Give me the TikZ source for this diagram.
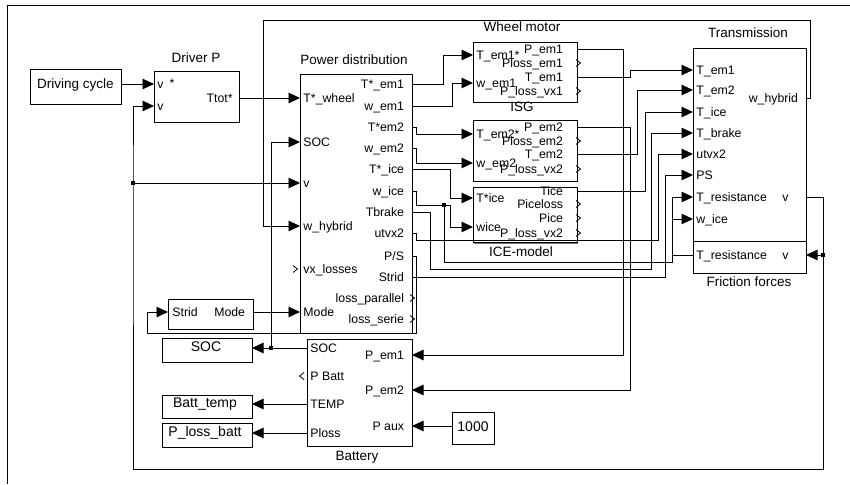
\documentclass[tikz,border=0pt]{standalone}
\usepackage{fontspec}
\setmainfont{Liberation Sans}
\usetikzlibrary{arrows.meta,shadows}
\newcommand\portfnt{\fontsize{12.3}{13}\selectfont}
\newcommand\titlefnt{\fontsize{13.5}{15}\selectfont}
\newcommand\dispfnt{\fontsize{14}{15}\selectfont}
\newcommand\chvo[2]{\draw[chev] (#1-1,#2-3.5) -- (#1+3.5,#2) -- (#1-1,#2+3.5);}
\begin{document}
\begin{tikzpicture}[x=1pt,y=-1pt,
  line width=0.9pt,
  blk/.style={draw, fill=white, line width=0.9pt, anchor=north west, inner sep=0pt, outer sep=0pt,
     drop shadow={shadow xshift=1.3pt, shadow yshift=-1.3pt, fill=black!55, opacity=1}},
  sig/.style={draw, line width=0.9pt, -{Triangle[length=11.5pt,width=10.5pt]}},
  wire/.style={draw, line width=0.9pt},
  jn/.style={fill, inner sep=0pt, minimum size=3.8pt},
  pl/.style={font=\portfnt, anchor=base west, inner sep=0pt, xshift=3pt, yshift=-4.4pt},
  pr/.style={font=\portfnt, anchor=base east, inner sep=0pt, xshift=-7.5pt, yshift=-4.4pt},
  ttl/.style={font=\titlefnt, anchor=base, inner sep=0pt, yshift=-4.8pt},
  dsp/.style={font=\dispfnt, anchor=base, inner sep=0pt, yshift=-5pt},
  chev/.style={draw, line width=0.8pt},
]
\useasboundingbox (0,0) rectangle (850,484);
% frame
\draw[line width=0.9pt] (850,5) -- (7,5) -- (7,484);

% blocks
\node[blk, minimum width=91pt, minimum height=35pt] (dc) at (30,69) {};
\node[blk, minimum width=85pt, minimum height=51pt] (drv) at (154,71) {};
\node[blk, minimum width=112pt, minimum height=259pt] (pd) at (300,74) {};
\node[blk, minimum width=104pt, minimum height=60pt] (wm) at (473,42) {};
\node[blk, minimum width=104pt, minimum height=61pt] (isg) at (473,120) {};
\node[blk, minimum width=104pt, minimum height=55.5pt] (ice) at (473,187) {};
\node[blk, minimum width=113pt, minimum height=193pt] (tr) at (693,48) {};
\node[blk, minimum width=113pt, minimum height=32pt] (ff) at (693,241) {};
\node[blk, minimum width=85pt, minimum height=30pt] (md) at (168,299) {};
\node[blk, minimum width=90pt, minimum height=24pt] (socd) at (162,338) {};
\node[blk, minimum width=90pt, minimum height=23pt] (btd) at (162,395) {};
\node[blk, minimum width=90pt, minimum height=24pt] (plb) at (162,423) {};
\node[blk, minimum width=105pt, minimum height=107pt] (bat) at (307,339) {};
\node[blk, minimum width=42pt, minimum height=32pt] (cst) at (452,412) {};

% ports
\coordinate (dc-out) at (121,84);
\coordinate (drv-vs) at (154,84);
\coordinate (drv-v) at (154,106);
\coordinate (drv-t) at (239,98);
\coordinate (pd-tw) at (300,98);
\coordinate (pd-soc) at (300,142);
\coordinate (pd-v) at (300,183);
\coordinate (pd-wh) at (300,226);
\coordinate (pd-vx) at (300,269);
\coordinate (pd-mode) at (300,312);
\coordinate (pd-o1) at (412,84);
\coordinate (pd-o2) at (412,106);
\coordinate (pd-o3) at (412,127);
\coordinate (pd-o4) at (412,148);
\coordinate (pd-o5) at (412,169);
\coordinate (pd-o6) at (412,191);
\coordinate (pd-o7) at (412,212);
\coordinate (pd-o8) at (412,233);
\coordinate (pd-o9) at (412,256);
\coordinate (pd-o10) at (412,277);
\coordinate (pd-o11) at (412,298);
\coordinate (pd-o12) at (412,319);
\coordinate (wm-i1) at (473,55);
\coordinate (wm-i2) at (473,83);
\coordinate (wm-o1) at (577,49);
\coordinate (wm-o2) at (577,63);
\coordinate (wm-o3) at (577,77);
\coordinate (wm-o4) at (577,91);
\coordinate (isg-i1) at (473,134);
\coordinate (isg-i2) at (473,163);
\coordinate (isg-o1) at (577,127);
\coordinate (isg-o2) at (577,141);
\coordinate (isg-o3) at (577,154);
\coordinate (isg-o4) at (577,169);
\coordinate (ice-i1) at (473,198);
\coordinate (ice-i2) at (473,227);
\coordinate (ice-o1) at (577,191);
\coordinate (ice-o2) at (577,204);
\coordinate (ice-o3) at (577,218);
\coordinate (ice-o4) at (577,233);
\coordinate (tr-i1) at (693,70);
\coordinate (tr-i2) at (693,90);
\coordinate (tr-i3) at (693,112);
\coordinate (tr-i4) at (693,133);
\coordinate (tr-i5) at (693,154);
\coordinate (tr-i6) at (693,175);
\coordinate (tr-i7) at (693,197);
\coordinate (tr-i8) at (693,219);
\coordinate (tr-wh) at (806,98);
\coordinate (tr-v) at (806,197);
\coordinate (ff-tr) at (693,255);
\coordinate (ff-v) at (806,255);
\coordinate (md-in) at (168,312);
\coordinate (md-out) at (253,312);
\coordinate (bat-soc) at (307,348);
\coordinate (bat-pb) at (307,376);
\coordinate (bat-temp) at (307,404);
\coordinate (bat-ploss) at (307,433);
\coordinate (bat-pem1) at (412,355);
\coordinate (bat-pem2) at (412,390);
\coordinate (bat-paux) at (412,426);
\coordinate (socd-in) at (252,348);
\coordinate (btd-in) at (252,404);
\coordinate (plb-in) at (252,433);
\coordinate (cst-out) at (452,426);
\coordinate (jv) at (133,183);
\coordinate (jsoc) at (271,348);
\coordinate (jwice) at (444,205);
\coordinate (jff) at (823,255);

% titles
\node[ttl] at (75.5,84) {Driving cycle};
\node[ttl] at (196,58) {Driver P};
\node[ttl] at (354,60) {Power distribution};
\node[ttl] at (522,27) {Wheel motor};
\node[ttl] at (522,107) {ISG};
\node[ttl] at (521,251.5) {ICE-model};
\node[ttl] at (748,33) {Transmission};
\node[ttl] at (749,282) {Friction forces};
\node[ttl] at (357,455.5) {Battery};
\node[dsp] at (206,346) {SOC};
\node[dsp] at (205,402.5) {Batt\_temp};
\node[dsp] at (205,431.5) {P\_loss\_batt};
\node[dsp] at (473,426) {1000};

% port labels
\node[pl] at (drv-vs) {v};
\node[font=\portfnt, inner sep=0pt] at (172,83) {*};
\node[pl] at (drv-v) {v};
\node[pr, xshift=1.5pt] at (drv-t) {Ttot*};

\node[pl] at (pd-tw) {T*\_wheel};
\node[pl] at (pd-soc) {SOC};
\node[pl] at (pd-v) {v};
\node[pl] at (pd-wh) {w\_hybrid};
\node[pl] at (pd-vx) {vx\_losses};
\node[pl] at (pd-mode) {Mode};
\node[pr] at (pd-o1) {T*\_em1};
\node[pr] at (pd-o2) {w\_em1};
\node[pr] at (pd-o3) {T*em2};
\node[pr] at (pd-o4) {w\_em2};
\node[pr] at (pd-o5) {T*\_ice};
\node[pr] at (pd-o6) {w\_ice};
\node[pr] at (pd-o7) {Tbrake};
\node[pr] at (pd-o8) {utvx2};
\node[pr] at (pd-o9) {P/S};
\node[pr] at (pd-o10) {Strid};
\node[pr] at (pd-o11) {loss\_parallel};
\node[pr] at (pd-o12) {loss\_serie};

\node[pl] at (wm-i1) {T\_em1*};
\node[pl] at (wm-i2) {w\_em1};
\node[pr, xshift=-6pt] at (wm-o1) {P\_em1};
\node[pr, xshift=-6pt] at (wm-o2) {Ploss\_em1};
\node[pr, xshift=-6pt] at (wm-o3) {T\_em1};
\node[pr, xshift=-6pt] at (wm-o4) {P\_loss\_vx1};

\node[pl] at (isg-i1) {T\_em2*};
\node[pl] at (isg-i2) {w\_em2};
\node[pr, xshift=-6pt] at (isg-o1) {P\_em2};
\node[pr, xshift=-6pt] at (isg-o2) {Ploss\_em2};
\node[pr, xshift=-6pt] at (isg-o3) {T\_em2};
\node[pr, xshift=-6pt] at (isg-o4) {P\_loss\_vx2};

\node[pl] at (ice-i1) {T*ice};
\node[pl] at (ice-i2) {wice};
\node[pr, xshift=-6pt] at (ice-o1) {Tice};
\node[pr, xshift=-6pt] at (ice-o2) {Piceloss};
\node[pr, xshift=-6pt] at (ice-o3) {Pice};
\node[pr, xshift=-6pt] at (ice-o4) {P\_loss\_vx2};

\node[pl] at (tr-i1) {T\_em1};
\node[pl] at (tr-i2) {T\_em2};
\node[pl] at (tr-i3) {T\_ice};
\node[pl] at (tr-i4) {T\_brake};
\node[pl] at (tr-i5) {utvx2};
\node[pl] at (tr-i6) {PS};
\node[pl] at (tr-i7) {T\_resistance};
\node[pl] at (tr-i8) {w\_ice};
\node[pr] at (tr-wh) {w\_hybrid};
\node[pr, xshift=-9.5pt] at (tr-v) {v};
\node[pl] at (ff-tr) {T\_resistance};
\node[pr, xshift=-9.5pt] at (ff-v) {v};

\node[pl, xshift=1pt] at (md-in) {Strid};
\node[pr] at (md-out) {Mode};

\node[pl] at (bat-soc) {SOC};
\node[pl] at (bat-pb) {P Batt};
\node[pl] at (bat-temp) {TEMP};
\node[pl] at (bat-ploss) {Ploss};
\node[pr] at (bat-pem1) {P\_em1};
\node[pr] at (bat-pem2) {P\_em2};
\node[pr] at (bat-paux) {P aux};

% unconnected port markers
\chvo{577}{63}
\chvo{577}{91}
\chvo{577}{141}
\chvo{577}{169}
\chvo{577}{204}
\chvo{577}{218}
\chvo{577}{233}
\chvo{411}{298}
\chvo{411}{319}
\draw[chev] (293,265.5) -- (297.5,269) -- (293,272.5);
\draw[chev] (304,372.5) -- (299.5,376) -- (304,379.5);

% connectors
\draw[sig] (dc-out) -- (drv-vs);
\draw[sig] (drv-t) -- (pd-tw);
\draw[wire] (tr-v) -| (jff);
\draw[sig] (jff) -- (ff-v);
\draw[sig] (jff) -- (823,469) -| (jv) |- (drv-v);
\draw[sig] (jv) -- (pd-v);
\draw[sig] (tr-wh) -- ++(4,0) |- (263,20) |- (pd-wh);
\draw[sig] (bat-soc) -- (socd-in);
\draw[sig] (jsoc) |- (pd-soc);
\draw[sig] (bat-temp) -- (btd-in);
\draw[sig] (bat-ploss) -- (plb-in);
\draw[sig] (cst-out) -- (bat-paux);
\draw[sig] (md-out) -- (pd-mode);
\draw[sig] (pd-o9) -- ++(4,0) |- (147,333) |- (md-in);
\draw[sig] (pd-o1) -- ++(31,0) |- (wm-i1);
\draw[sig] (pd-o2) -- ++(40,0) |- (wm-i2);
\draw[sig] (pd-o3) -- ++(4,0) |- (isg-i1);
\draw[sig] (pd-o4) -- ++(4,0) |- (isg-i2);
\draw[sig] (pd-o5) -- ++(38,0) |- (ice-i1);
\draw[sig] (pd-o6) -- ++(4,0) |- (450,205) |- (ice-i2);
\draw[sig] (jwice) |- (672,262) |- (tr-i8);
\draw[sig] (pd-o7) -- ++(18,0) |- (651,269) |- (tr-i4);
\draw[sig] (pd-o8) -- ++(4,0) |- (658,240.5) |- (tr-i5);
\draw[sig] (pd-o10) -- (665,277) |- (tr-i6);
\draw[sig] (wm-o3) -- ++(53,0) |- (tr-i1);
\draw[sig] (isg-o3) -- ++(60,0) |- (tr-i2);
\draw[sig] (ice-o1) -- ++(68,0) |- (tr-i3);
\draw[sig] (wm-o1) -- ++(46,0) |- (bat-pem1);
\draw[sig] (isg-o1) -- ++(53,0) |- (bat-pem2);
\draw[sig] (ff-tr) -- ++(-21,0) |- (tr-i7);

% junctions
\node[jn] (njv) at (jv) {};
\node[jn] (njsoc) at (jsoc) {};
\node[jn] (njwice) at (jwice) {};
\node[jn] (njff) at (jff) {};
\end{tikzpicture}
\end{document}
